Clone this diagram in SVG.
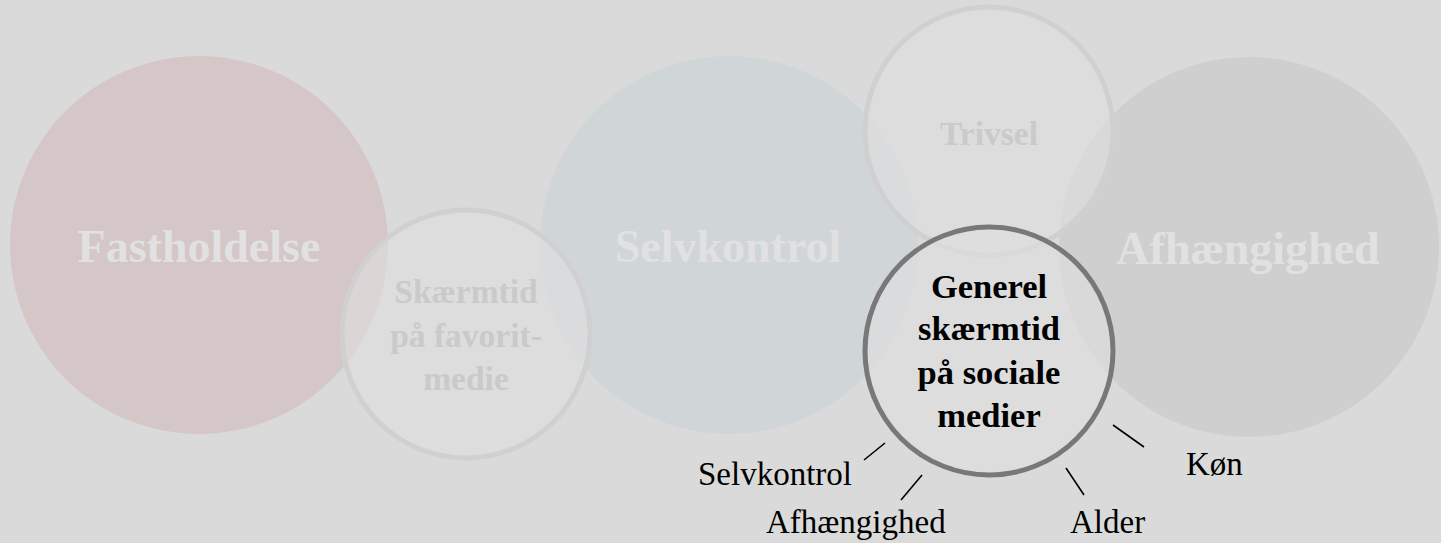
<svg xmlns="http://www.w3.org/2000/svg" width="1441" height="543" viewBox="0 0 1441 543">
<style>
.big{font-family:"Liberation Serif",serif;font-weight:bold;font-size:46px;fill:#e1e1e1;text-anchor:middle}
.mid{font-family:"Liberation Serif",serif;font-weight:bold;font-size:33.5px;fill:#cacaca;text-anchor:middle}
.main{font-family:"Liberation Serif",serif;font-weight:bold;font-size:34.5px;fill:#000;text-anchor:middle}
.lab{font-family:"Liberation Serif",serif;font-size:33px;fill:#000}
.small{fill:#dfdfdf;fill-opacity:0.6;stroke:#d0d0d0;stroke-width:5}
.tick{stroke:#000;stroke-width:1.6;fill:none}
</style>
<rect width="1441" height="543" fill="#dadada"/>
<g id="fastholdelse">
<circle cx="199" cy="245" r="189" fill="#d5c6c8"/>
<text class="big" x="199" y="262">Fastholdelse</text>
</g>
<g id="selvkontrol">
<circle cx="729" cy="245" r="189" fill="#d0d5d8"/>
<text class="big" x="728" y="262">Selvkontrol</text>
</g>
<g id="afhaengighed">
<circle cx="1249" cy="247" r="190" fill="#cfcfcf"/>
<text class="big" x="1248" y="264">Afhængighed</text>
</g>
<g id="skaermtid">
<circle class="small" cx="466" cy="334" r="124"/>
<text class="mid" x="466" y="303">Skærmtid</text>
<text class="mid" x="466" y="347">på favorit-</text>
<text class="mid" x="466" y="390">medie</text>
</g>
<g id="trivsel">
<circle class="small" cx="989" cy="131" r="124"/>
<text class="mid" x="989" y="145">Trivsel</text>
</g>
<g id="generel">
<circle cx="989" cy="351" r="124" fill="#dfdfdf" fill-opacity="0.6" stroke="#787878" stroke-width="5"/>
<text class="main" x="989" y="298">Generel</text>
<text class="main" x="989" y="340">skærmtid</text>
<text class="main" x="989" y="384">på sociale</text>
<text class="main" x="989" y="427">medier</text>
</g>
<g id="connectors">
<line class="tick" x1="864" y1="460" x2="885" y2="443"/>
<line class="tick" x1="901" y1="500" x2="922" y2="475"/>
<line class="tick" x1="1066" y1="468" x2="1084" y2="495"/>
<line class="tick" x1="1113" y1="425" x2="1144" y2="447"/>
</g>
<g id="labels">
<text class="lab" x="698" y="485">Selvkontrol</text>
<text class="lab" x="766" y="533">Afhængighed</text>
<text class="lab" x="1070" y="533">Alder</text>
<text class="lab" x="1186" y="475">Køn</text>
</g>
</svg>
